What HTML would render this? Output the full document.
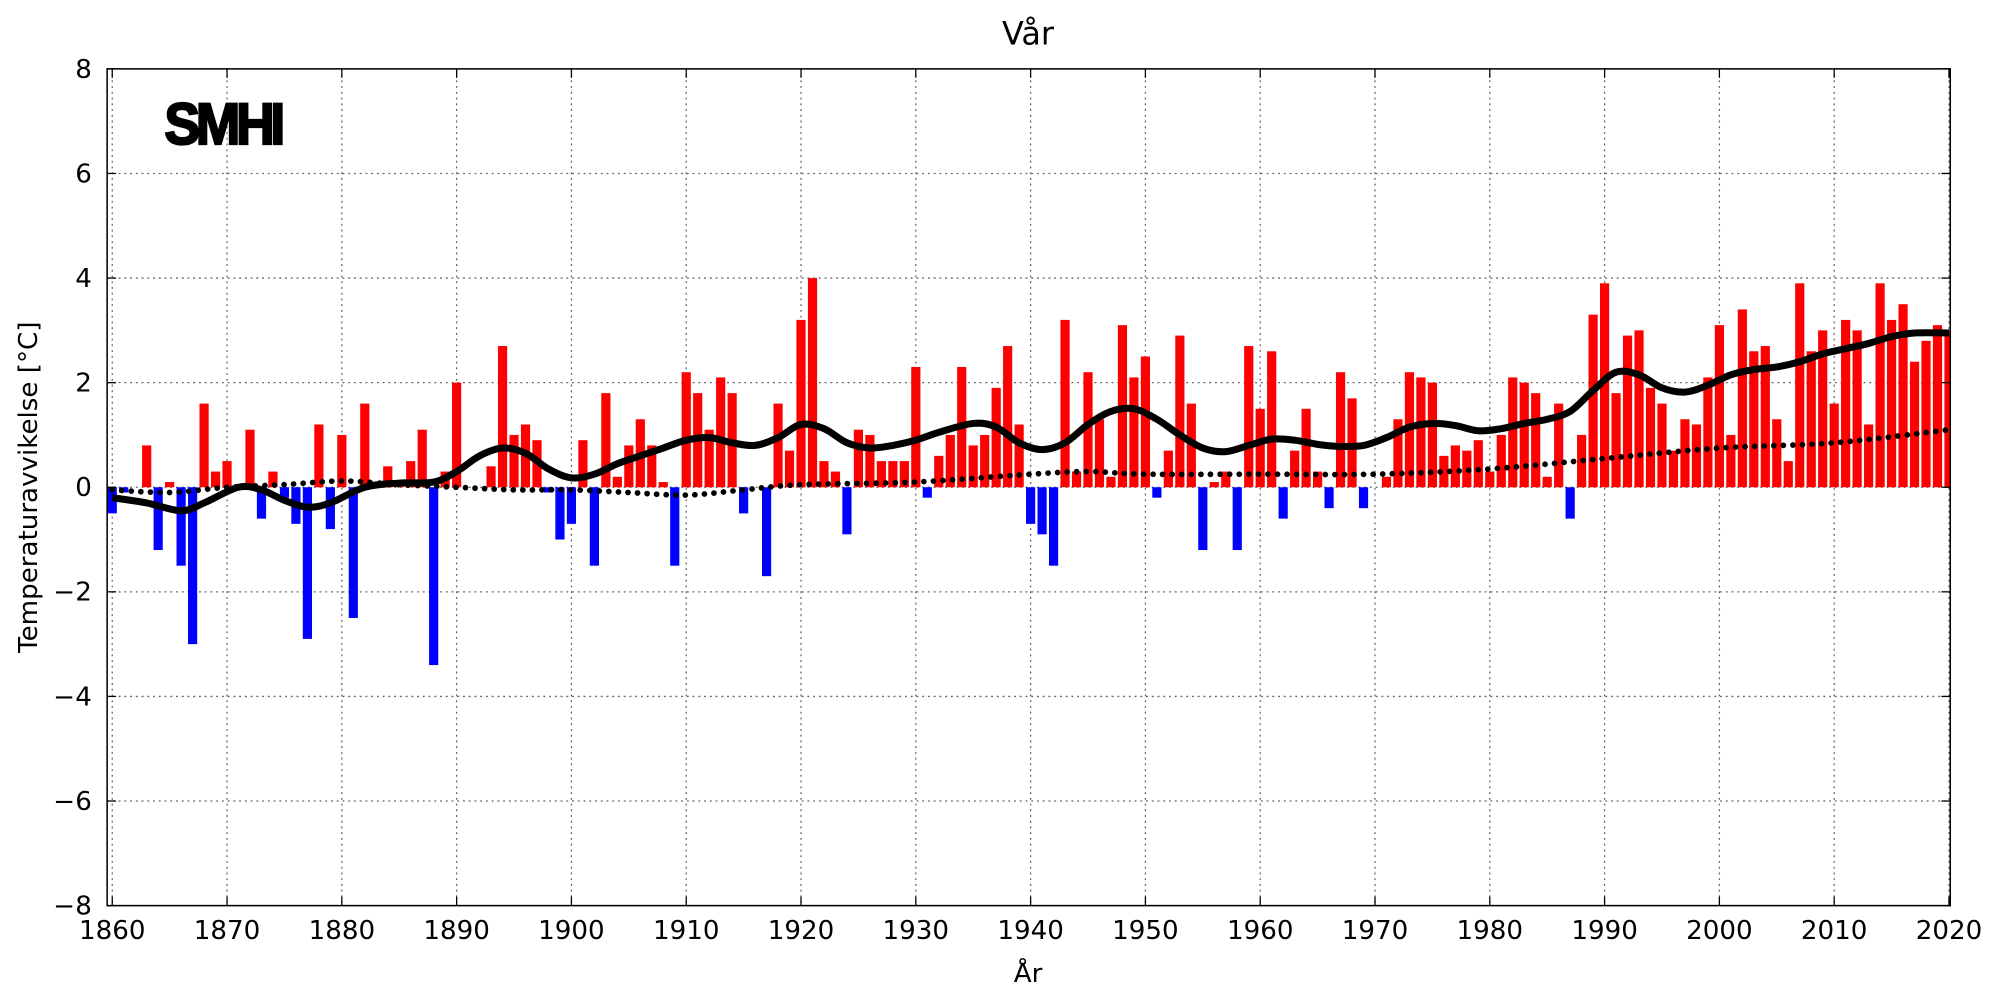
<!DOCTYPE html>
<html><head><meta charset="utf-8"><style>html,body{margin:0;padding:0;background:#fff}svg{display:block}</style></head>
<body>
<svg id="s" width="2000" height="1000" viewBox="0 0 1568 784" xmlns="http://www.w3.org/2000/svg" font-family="DejaVu Sans, Liberation Sans, sans-serif">
<rect width="1568" height="784" fill="#fff"/>
<g id="grid"></g>
<g id="bars"></g>
<g id="lines"></g>
<rect x="84" y="54" width="1445" height="656" fill="none" stroke="#000" stroke-width="1.2"/>
<g id="ticks"></g>
<text x="806" y="35" font-size="25" text-anchor="middle">Vår</text>
<text x="806" y="770" font-size="20.5" text-anchor="middle">År</text>
<text transform="translate(29,382) rotate(-90)" font-size="20.5" text-anchor="middle">Temperaturavvikelse [°C]</text>
<text transform="translate(129,113) scale(1.1,1.2)" font-size="38" font-weight="bold" font-family="Liberation Sans, sans-serif" letter-spacing="-3" stroke="#000" stroke-width="1.5">SMHI</text>
</svg>
<script>
const L=84,R=1529,T=54,B=710;
const X=y=>88+(y-1860)*9, Y=v=>382-v*41;
const ns="http://www.w3.org/2000/svg";
function el(g,tag,a,txt){const e=document.createElementNS(ns,tag);for(const k in a)e.setAttribute(k,a[k]);if(txt!==undefined)e.textContent=txt;document.getElementById(g).appendChild(e);}
const vals=[-0.5,-0.1,0,0.8,-1.2,0.1,-1.5,-3.0,1.6,0.3,0.5,0,1.1,-0.6,0.3,-0.2,-0.7,-2.9,1.2,-0.8,1.0,-2.5,1.6,0.05,0.4,0.05,0.5,1.1,-3.4,0.3,2.0,0,0,0.4,2.7,1.0,1.2,0.9,-0.1,-1.0,-0.7,0.9,-1.5,1.8,0.2,0.8,1.3,0.8,0.1,-1.5,2.2,1.8,1.1,2.1,1.8,-0.5,0,-1.7,1.6,0.7,3.2,4.0,0.5,0.3,-0.9,1.1,1.0,0.5,0.5,0.5,2.3,-0.2,0.6,1.0,2.3,0.8,1.0,1.9,2.7,1.2,-0.7,-0.9,-1.5,3.2,0.3,2.2,1.3,0.2,3.1,2.1,2.5,-0.2,0.7,2.9,1.6,-1.2,0.1,0.3,-1.2,2.7,1.5,2.6,-0.6,0.7,1.5,0.3,-0.4,2.2,1.7,-0.4,0,0.2,1.3,2.2,2.1,2.0,0.6,0.8,0.7,0.9,0.3,1.0,2.1,2.0,1.8,0.2,1.6,-0.6,1.0,3.3,3.9,1.8,2.9,3.0,1.9,1.6,0.7,1.3,1.2,2.1,3.1,1.0,3.4,2.6,2.7,1.3,0.5,3.9,2.6,3.0,1.6,3.2,3.0,1.2,3.9,3.2,3.5,2.4,2.8,3.1,3.0];
for(let y=1860;y<=2020;y+=10){el("grid","line",{x1:X(y),x2:X(y),y1:T,y2:B,stroke:"#666","stroke-width":1,"stroke-dasharray":"1.5 3"});
 el("ticks","line",{x1:X(y),x2:X(y),y1:B,y2:B-7,stroke:"#000"});el("ticks","line",{x1:X(y),x2:X(y),y1:T,y2:T+7,stroke:"#000"});
 el("ticks","text",{x:X(y),y:B+26,"font-size":20.5,"text-anchor":"middle"},String(y));}
for(let v=-8;v<=8;v+=2){el("grid","line",{x1:L,x2:R,y1:Y(v),y2:Y(v),stroke:"#666","stroke-width":1,"stroke-dasharray":"1.5 3"});
 el("ticks","line",{x1:L,x2:L+7,y1:Y(v),y2:Y(v),stroke:"#000"});el("ticks","line",{x1:R,x2:R-7,y1:Y(v),y2:Y(v),stroke:"#000"});
 el("ticks","text",{x:L-12,y:Y(v)+7,"font-size":20.5,"text-anchor":"end"},(v<0?"\u2212":"")+Math.abs(v));}
vals.forEach((v,i)=>{if(v===0)return;const x=X(1860+i);const w=7.2;
 let x0=Math.max(L,x-w/2),x1=Math.min(R,x+w/2);
 el("bars","rect",{x:x0,y:v>0?Y(v):Y(0),width:x1-x0,height:Math.abs(v)*41,fill:v>0?"#ff0000":"#0000ff"});});
function smooth(pts){let d="M"+X(pts[0][0])+","+Y(pts[0][1]);
 for(let i=0;i<pts.length-1;i++){const p0=pts[Math.max(0,i-1)],p1=pts[i],p2=pts[i+1],p3=pts[Math.min(pts.length-1,i+2)];
  const c1x=X(p1[0])+(X(p2[0])-X(p0[0]))/6,c1y=Y(p1[1])+(Y(p2[1])-Y(p0[1]))/6,c2x=X(p2[0])-(X(p3[0])-X(p1[0]))/6,c2y=Y(p2[1])-(Y(p3[1])-Y(p1[1]))/6;
  d+=` C${c1x},${c1y} ${c2x},${c2y} ${X(p2[0])},${Y(p2[1])}`;}return d;}
const sm=[[1860,-0.2],[1863,-0.3],[1866,-0.45],[1868,-0.3],[1871,0.0],[1873,-0.05],[1875,-0.25],[1877,-0.38],[1879,-0.3],[1882,0.0],[1885,0.08],[1888,0.1],[1890,0.3],[1892,0.6],[1894,0.75],[1896,0.65],[1898,0.35],[1900,0.18],[1902,0.25],[1904,0.45],[1906,0.6],[1908,0.75],[1910,0.9],[1912,0.95],[1914,0.85],[1916,0.8],[1918,0.95],[1920,1.2],[1922,1.12],[1924,0.85],[1926,0.75],[1928,0.8],[1930,0.9],[1932,1.05],[1935,1.22],[1937,1.15],[1939,0.85],[1941,0.72],[1943,0.85],[1945,1.2],[1947,1.45],[1949,1.5],[1951,1.3],[1953,1.0],[1955,0.75],[1957,0.68],[1959,0.8],[1961,0.92],[1963,0.9],[1965,0.82],[1967,0.78],[1969,0.8],[1971,0.95],[1973,1.15],[1975,1.22],[1977,1.18],[1979,1.08],[1981,1.12],[1983,1.22],[1985,1.3],[1987,1.45],[1989,1.85],[1991,2.2],[1993,2.15],[1995,1.9],[1997,1.82],[1999,1.95],[2001,2.15],[2003,2.25],[2005,2.3],[2007,2.4],[2009,2.55],[2011,2.65],[2013,2.75],[2015,2.88],[2017,2.95],[2020,2.95]];
const dt=[[1860,-0.05],[1865,-0.1],[1870,0.0],[1875,0.05],[1880,0.12],[1885,0.05],[1890,0.0],[1895,-0.05],[1900,-0.05],[1905,-0.1],[1910,-0.15],[1915,-0.05],[1920,0.05],[1930,0.1],[1940,0.25],[1945,0.3],[1950,0.25],[1960,0.25],[1970,0.25],[1980,0.35],[1990,0.55],[2000,0.75],[2010,0.85],[2020,1.1]];
el("lines","path",{d:smooth(dt),fill:"none",stroke:"#000","stroke-width":4.5,"stroke-linecap":"round","stroke-dasharray":"0 7.5"});
el("lines","path",{d:smooth(sm),fill:"none",stroke:"#000","stroke-width":5.5,"stroke-linejoin":"round"});
</script>
</body></html>
